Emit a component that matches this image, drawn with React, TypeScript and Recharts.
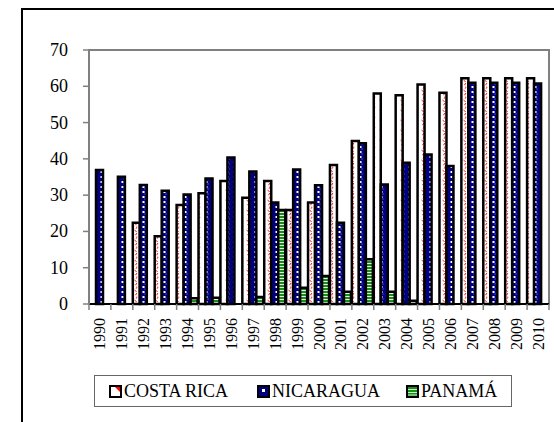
import React from 'react';
import { BarChart, Bar, XAxis, YAxis } from 'recharts';

const years = ['1990', '1991', '1992', '1993', '1994', '1995', '1996', '1997', '1998', '1999', '2000',
  '2001', '2002', '2003', '2004', '2005', '2006', '2007', '2008', '2009', '2010'];
const costaRica = [0, 0, 22.4, 18.7, 27.3, 30.5, 33.9, 29.3, 33.9, 25.9, 28.0,
  38.3, 44.9, 58.0, 57.5, 60.5, 58.2, 62.2, 62.2, 62.2, 62.2];
const nicaragua = [36.9, 35.1, 32.8, 31.2, 30.2, 34.6, 40.4, 36.5, 28.0, 37.1, 32.7,
  22.4, 44.3, 32.9, 38.9, 41.2, 38.0, 61.0, 61.0, 61.0, 60.8];
const panama = [0, 0, 0, 0, 1.6, 1.7, 0, 1.9, 25.9, 4.5, 7.7,
  3.4, 12.3, 3.4, 0.9, 0, 0, 0, 0, 0, 0];
const seriesNames = ['COSTA RICA', 'NICARAGUA', 'PANAMÁ'];
const yTicks = [0, 10, 20, 30, 40, 50, 60, 70];

const data = years.map((year, i) => ({
  year,
  cr: costaRica[i],
  ni: nicaragua[i],
  pa: panama[i],
}));

const FONT = 'Liberation Serif';
const W = 554;
const H = 422;
const margin = { top: 50, right: 5, left: 0, bottom: 68 };
const yAxisWidth = 89;
const plotWidth = W - margin.right - yAxisWidth;
const band = plotWidth / years.length;

const Patterns = () => (
  <defs>
    <pattern id="pat-cr" patternUnits="userSpaceOnUse" width="7" height="10">
      <rect width="7" height="10" fill="#ffffff" />
      <path d="M1.5,0 Q5.5,2.5 2.5,5 Q5.5,7.5 1.5,10" fill="none" stroke="#ff0000" strokeWidth="1" strokeDasharray="2.5 1.5" />
    </pattern>
    <pattern id="pat-ni" patternUnits="userSpaceOnUse" width="7" height="5">
      <rect width="7" height="5" fill="#000080" />
      <rect x="2.5" y="1" width="2" height="2" fill="#ffffff" />
      <rect x="4.5" y="3.5" width="1" height="1" fill="#8f8fd0" />
    </pattern>
    <pattern id="pat-pa" patternUnits="userSpaceOnUse" width="4" height="3">
      <rect width="4" height="3" fill="#e8f5e8" />
      <rect width="4" height="2" fill="#1a8c1a" />
    </pattern>
  </defs>
);

const XTick = (props: any) => {
  const { x, y, payload, index } = props;
  const last = index === years.length - 1;
  return (
    <g>
      <line x1={x - band / 2} x2={x - band / 2} y1={y} y2={y + 6} stroke="#808080" strokeWidth={1.5} />
      {last && <line x1={x + band / 2} x2={x + band / 2} y1={y} y2={y + 6} stroke="#808080" strokeWidth={1.5} />}
      <text
        x={0}
        y={0}
        transform={`translate(${x},${y + 14}) rotate(-90)`}
        textAnchor="end"
        dominantBaseline="central"
        fontFamily={FONT}
        fontSize={16}
        fill="#000"
      >
        {payload.value}
      </text>
    </g>
  );
};

const YTick = (props: any) => {
  const { x, y, payload } = props;
  return (
    <text x={x} y={y} textAnchor="end" dominantBaseline="central" fontFamily={FONT} fontSize={18} fill="#000">
      {payload.value}
    </text>
  );
};

const LegendIcon = ({ kind }: { kind: number }) => (
  <svg width={13} height={13} style={{ display: 'block' }}>
    {kind === 0 && (
      <>
        <rect x={1} y={1} width={11} height={11} fill="#fff" stroke="#000" strokeWidth={2} />
        <path d="M6,2 L11,2 L11,7 Z" fill="#ff0000" />
      </>
    )}
    {kind === 1 && (
      <>
        <rect x={1} y={1} width={11} height={11} fill="#000080" stroke="#000" strokeWidth={2} />
        <rect x={5} y={4} width={3} height={3} fill="#fff" />
      </>
    )}
    {kind === 2 && (
      <>
        <rect x={1} y={1} width={11} height={11} fill="#1a8c1a" stroke="#000" strokeWidth={2} />
        <line x1={2} x2={11} y1={4.5} y2={4.5} stroke="#c8f0c8" strokeWidth={1} />
        <line x1={2} x2={11} y1={7.5} y2={7.5} stroke="#c8f0c8" strokeWidth={1} />
        <line x1={2} x2={11} y1={10} y2={10} stroke="#c8f0c8" strokeWidth={1} />
      </>
    )}
  </svg>
);

const legendLefts = [14, 162, 311];

export default function App() {
  return (
    <div style={{ position: 'fixed', left: 0, top: 0, width: W, height: H, overflow: 'hidden', background: '#fff', fontFamily: "'Liberation Serif'" }}>
      {/* outer frame */}
      <div style={{ position: 'absolute', left: 21, top: 8, width: 700, height: 600, border: '2px solid #000' }} />
      {/* plot area border (top / right) */}
      <div style={{ position: 'absolute', left: 88, top: 49, width: 460, height: 254, borderTop: '2px solid #808080', borderRight: '2px solid #808080' }} />
      <div style={{ position: 'absolute', left: 0, top: 0 }}>
        <BarChart width={W} height={H} data={data} margin={margin} barCategoryGap={0} barGap={0}>
          <Patterns />
          <XAxis
            dataKey="year"
            interval={0}
            height={50}
            tickSize={0}
            tickMargin={0}
            tick={<XTick />}
            axisLine={{ stroke: '#000', strokeWidth: 2 }}
            tickLine={false}
          />
          <YAxis
            width={yAxisWidth}
            domain={[0, 70]}
            ticks={yTicks}
            interval={0}
            tickSize={6}
            tickMargin={15}
            axisLine={{ stroke: '#808080', strokeWidth: 2 }}
            tickLine={{ stroke: '#808080', strokeWidth: 1.5 }}
            tick={<YTick />}
          />
          <Bar dataKey="cr" name={seriesNames[0]} fill="url(#pat-cr)" stroke="#000" strokeWidth={2.5} isAnimationActive={false} />
          <Bar dataKey="ni" name={seriesNames[1]} fill="url(#pat-ni)" stroke="#000" strokeWidth={2.5} isAnimationActive={false} />
          <Bar dataKey="pa" name={seriesNames[2]} fill="url(#pat-pa)" stroke="#000" strokeWidth={2.5} isAnimationActive={false} />
        </BarChart>
      </div>
      {/* legend */}
      <div style={{ position: 'absolute', left: 94, top: 375, width: 418, height: 32, border: '1.5px solid #666', boxSizing: 'border-box' }}>
        {seriesNames.map((name, i) => (
          <div key={name} style={{ position: 'absolute', left: legendLefts[i], top: 0, height: 30, display: 'flex', alignItems: 'center', gap: 2 }}>
            <LegendIcon kind={i} />
            <span style={{ fontFamily: "'Liberation Serif'", fontSize: 18, color: '#000', whiteSpace: 'nowrap' }}>{name}</span>
          </div>
        ))}
      </div>
    </div>
  );
}
